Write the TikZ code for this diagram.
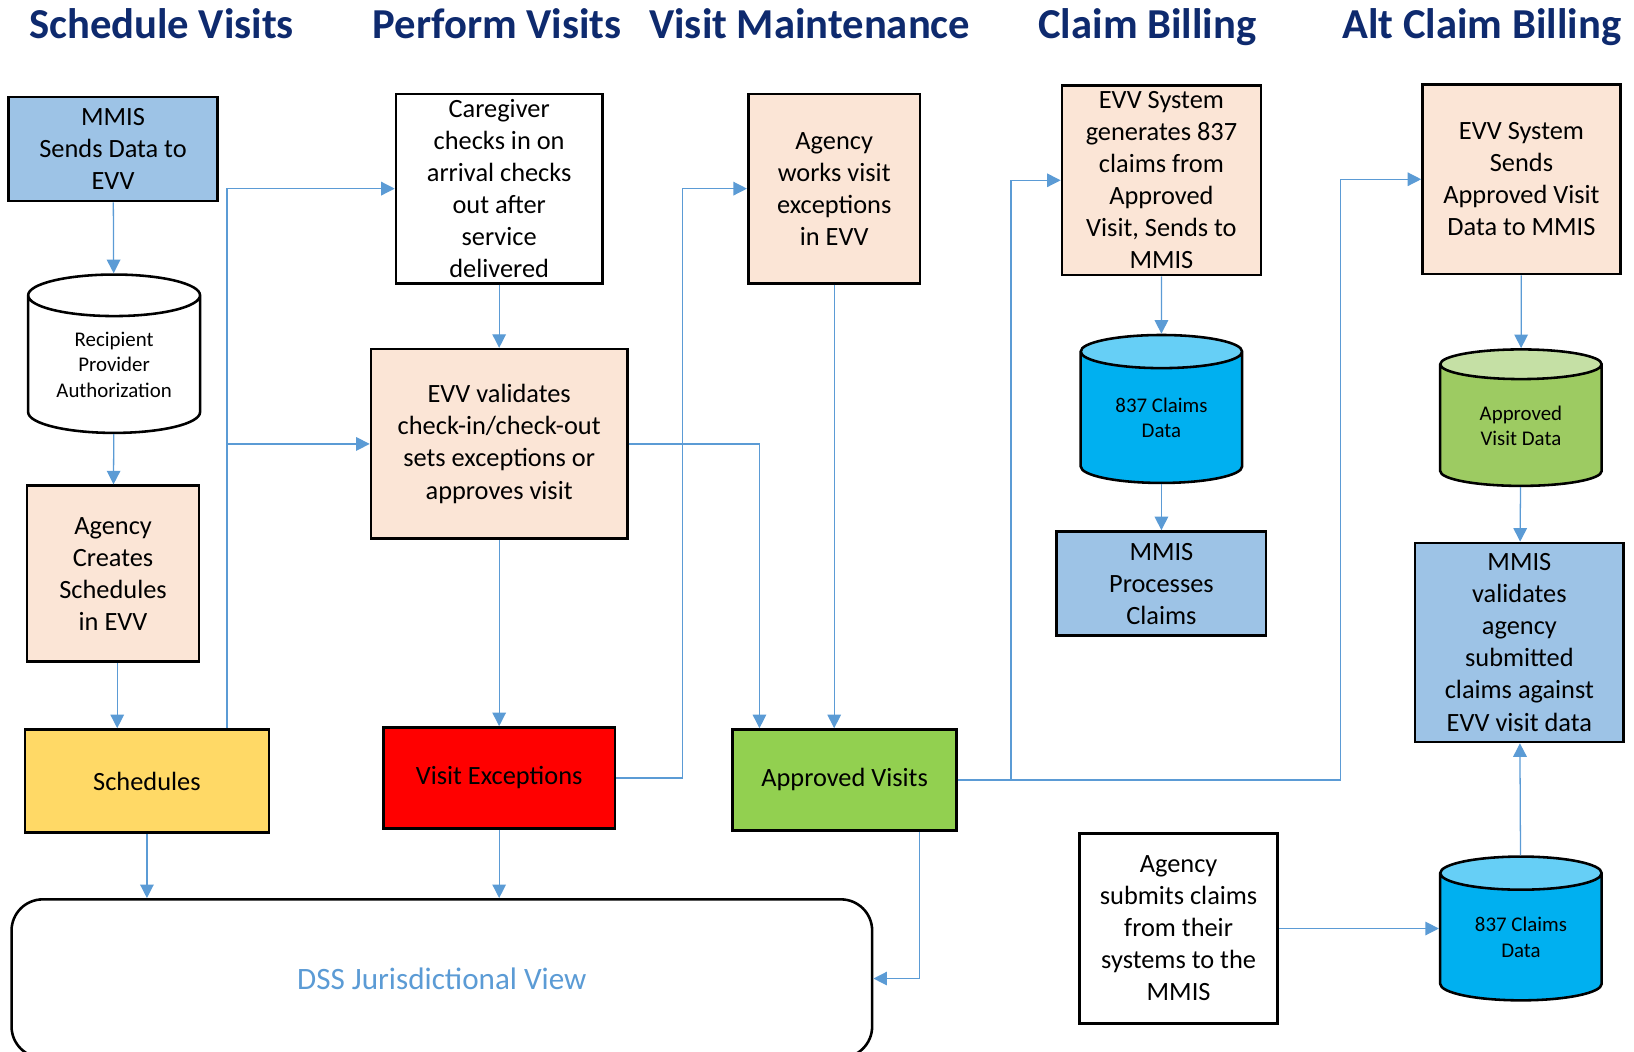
\documentclass[tikz,border=0pt]{standalone}
\usepackage{fontspec}
\setmainfont{Carlito}
\usetikzlibrary{arrows.meta,shapes.geometric,calc}

\definecolor{linkblue}{HTML}{5B9BD5}
\definecolor{navy}{HTML}{0E2A6E}
\definecolor{mmisblue}{HTML}{9DC3E6}
\definecolor{peach}{HTML}{FBE5D6}
\definecolor{schedyellow}{HTML}{FFD966}
\definecolor{okgreen}{HTML}{92D050}
\definecolor{claimblue}{HTML}{00B0F0}
\definecolor{claimtop}{HTML}{66CFF6}
\definecolor{visitgreen}{HTML}{9DCB62}
\definecolor{visittop}{HTML}{C5E0A5}

\tikzset{
  box/.style={draw, line width=1.4pt, align=center, inner sep=0pt,
    font=\fontsize{14.4}{17.5}\selectfont},
  store/.style={cylinder, shape border rotate=90, aspect=0.36, draw, line width=1.4pt,
    cylinder uses custom fill, inner sep=0pt, align=center,
    font=\fontsize{11.4}{13.9}\selectfont},
  link/.style={linkblue, line width=0.7pt, -{Triangle[length=0.26cm,width=0.26cm]}},
  heading/.style={text=navy, anchor=base, font=\fontsize{23.3}{28}\selectfont\bfseries}
}

\begin{document}
\begin{tikzpicture}[x=0.02cm, y=-0.02cm]
  \useasboundingbox (0,0) rectangle (1568,1009);

  % column headings
  \node[heading] (h1) at (155,37) {Schedule Visits};
  \node[heading] (h2) at (477,37) {Perform Visits};
  \node[heading] (h3) at (777,37) {Visit Maintenance};
  \node[heading] (h4) at (1101,37) {Claim Billing};
  \node[heading] (h5) at (1422,37) {Alt Claim Billing};

  % schedule visits
  \node[box, fill=mmisblue, minimum width=4.02cm, minimum height=2cm] (mmis) at (108.5,143) {MMIS\\Sends Data to\\EVV};
  \node[store, cylinder body fill=white, cylinder end fill=white, minimum width=3.3cm, minimum height=3.04cm] (rpa) at (109.5,350) {Recipient\\Provider\\Authorization};
  \node[box, fill=peach, minimum width=3.3cm, minimum height=3.38cm] (agcr) at (108.5,550.5) {Agency\\Creates\\Schedules\\in EVV};
  \node[box, fill=schedyellow, minimum width=4.68cm, minimum height=1.98cm] (sched) at (141,749.5) {Schedules};

  % perform visits
  \node[box, fill=white, minimum width=3.96cm, minimum height=3.64cm] (care) at (479,181) {Caregiver\\checks in on\\arrival checks\\out after\\service\\delivered};
  \node[box, fill=peach, minimum width=4.92cm, minimum height=3.64cm] (valid) at (479,426) {EVV validates\\check-in/check-out\\sets exceptions or\\approves visit};
  \node[box, fill=red, minimum width=4.44cm, minimum height=1.94cm] (vexc) at (479,746.5) {Visit Exceptions\strut};

  % visit maintenance
  \node[box, fill=peach, minimum width=3.3cm, minimum height=3.64cm] (agwk) at (800.5,181) {Agency\\works visit\\exceptions\\in EVV};
  \node[box, fill=okgreen, minimum width=4.3cm, minimum height=1.94cm] (appr) at (810.5,748.5) {Approved Visits\strut};

  \node[draw, line width=1.4pt, rounded corners=0.6cm, minimum width=16.52cm, minimum height=3.04cm,
    text=linkblue, font=\fontsize{17}{20}\selectfont] (dss) at (424,939) {DSS Jurisdictional View};

  % claim billing
  \node[box, fill=peach, minimum width=3.82cm, minimum height=3.64cm] (gen837) at (1114.5,173) {EVV System\\generates 837\\claims from\\Approved\\Visit, Sends to\\MMIS};
  \node[store, cylinder body fill=claimblue, cylinder end fill=claimtop, minimum width=3.1cm, minimum height=2.84cm] (c837a) at (1114.5,401) {837 Claims\\Data};
  \node[box, fill=mmisblue, minimum width=4.02cm, minimum height=2cm] (mproc) at (1114.5,560) {MMIS\\Processes\\Claims};
  \node[box, fill=white, minimum width=3.8cm, minimum height=3.64cm] (agsub) at (1131,891) {Agency\\submits claims\\from their\\systems to the\\MMIS};

  % alt claim billing
  \node[box, fill=peach, minimum width=3.8cm, minimum height=3.64cm] (sendav) at (1460,172) {EVV System\\Sends\\Approved Visit\\Data to MMIS};
  \node[store, cylinder body fill=visitgreen, cylinder end fill=visittop, minimum width=3.1cm, minimum height=2.62cm] (avd) at (1459.5,408.5) {Approved\\Visit Data};
  \node[box, fill=mmisblue, minimum width=4cm, minimum height=3.82cm] (mval) at (1458,616.5) {MMIS\\validates\\agency\\submitted\\claims against\\EVV visit data};
  \node[store, cylinder body fill=claimblue, cylinder end fill=claimtop, minimum width=3.1cm, minimum height=2.76cm] (c837b) at (1459.5,899.5) {837 Claims\\Data};

  % connectors
  \draw[link] (mmis) -- (rpa);
  \draw[link] (rpa) -- (agcr);
  \draw[link] ($(agcr.south)+(4,0)$) -- ($(agcr.south |- sched.north)+(4,0)$);
  \draw[link] (sched.south) -- (sched.south |- dss.north);
  \draw[link] (sched.north west) ++(195,0) |- (care.west);
  \draw[link] (sched.north west) ++(195,0) |- (valid.west);
  \draw[link] (care) -- (valid);
  \draw[link] (valid) -- (vexc);
  \draw[link] (valid.east) -| ($(appr.north west)+(27,0)$);
  \draw[link] (vexc.east) -- ++(64,0) |- (agwk.west);
  \draw[link] (agwk.south) -- (agwk.south |- appr.north);
  \draw[link] (vexc.south) -- (vexc.south |- dss.north);
  \draw[link] ($(appr.south east)+(-37,0)$) |- (dss.east);
  \draw[link] (appr.east) -- ++(51,0) |- (gen837.west);
  \draw[link] (appr.east) -- ++(367,0) |- (sendav.west);
  \draw[link] (gen837) -- (c837a);
  \draw[link] (c837a) -- (mproc);
  \draw[link] (sendav) -- (avd);
  \draw[link] (avd) -- (mval);
  \draw[link] (c837b) -- (mval);
  \draw[link] (agsub.east) -- (agsub.east -| c837b.west);
\end{tikzpicture}
\end{document}
